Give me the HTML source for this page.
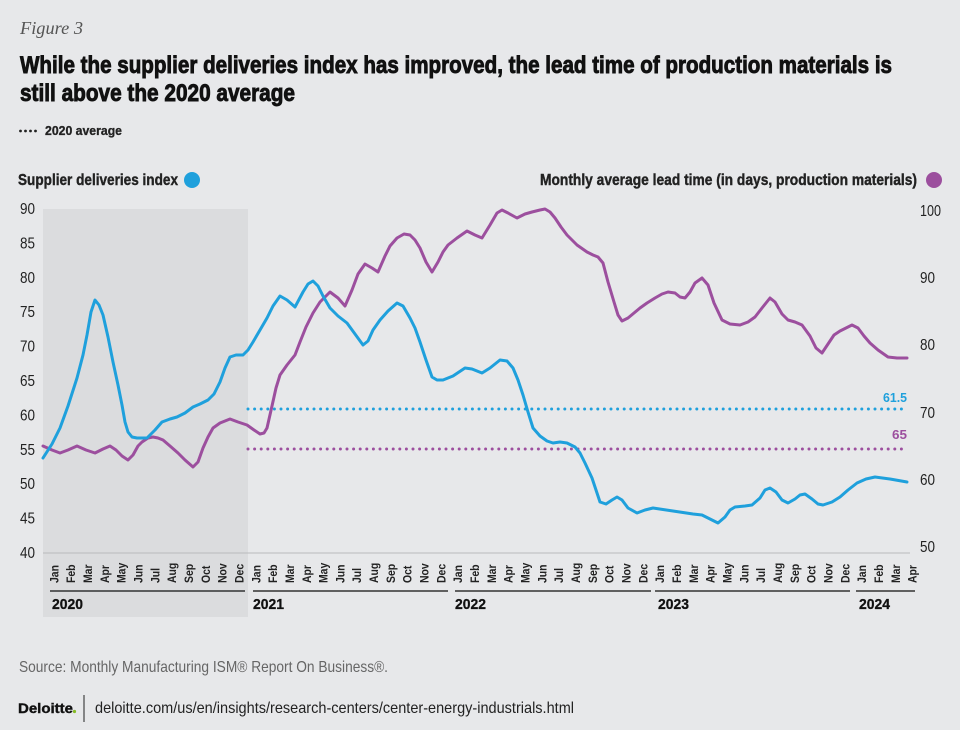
<!DOCTYPE html>
<html><head><meta charset="utf-8"><style>
html,body{margin:0;padding:0;background:#e7e8ea;}
svg{display:block;}
text{font-family:"Liberation Sans",Arial,sans-serif;}
.m{font-size:12px;font-weight:bold;fill:#222;}
.ax{font-size:16px;fill:#222;}
</style></head><body>
<svg width="960" height="730" viewBox="0 0 960 730" xmlns="http://www.w3.org/2000/svg">
<rect x="0" y="0" width="960" height="730" fill="#e7e8ea"/>
<rect x="43" y="209" width="205" height="408" fill="#dbdcde"/>

<text x="20" y="34" style="font-family:'Liberation Serif',serif;font-style:italic;font-size:18px;fill:#555" textLength="63" lengthAdjust="spacingAndGlyphs">Figure 3</text>
<text x="20" y="73" style="font-size:24px;font-weight:bold;fill:#111;stroke:#111;stroke-width:0.9px" textLength="872" lengthAdjust="spacingAndGlyphs">While the supplier deliveries index has improved, the lead time of production materials is</text>
<text x="20" y="101" style="font-size:24px;font-weight:bold;fill:#111;stroke:#111;stroke-width:0.9px" textLength="275" lengthAdjust="spacingAndGlyphs">still above the 2020 average</text>

<g fill="#222"><circle cx="20.5" cy="131" r="1.4"/><circle cx="25.5" cy="131" r="1.4"/><circle cx="30.5" cy="131" r="1.4"/><circle cx="35.5" cy="131" r="1.4"/></g>
<text x="45" y="135" style="font-size:13px;font-weight:bold;fill:#222;stroke:#222;stroke-width:0.3px" textLength="77" lengthAdjust="spacingAndGlyphs">2020 average</text>

<text x="18" y="185" style="font-size:16px;font-weight:bold;fill:#222;stroke:#222;stroke-width:0.4px" textLength="160" lengthAdjust="spacingAndGlyphs">Supplier deliveries index</text>
<circle cx="192" cy="180" r="8" fill="#1fa0dc"/>
<text x="540" y="185" style="font-size:16px;font-weight:bold;fill:#222;stroke:#222;stroke-width:0.4px" textLength="377" lengthAdjust="spacingAndGlyphs">Monthly average lead time (in days, production materials)</text>
<circle cx="934" cy="180" r="8" fill="#9c4f9e"/>

<!-- left axis -->
<g class="ax">
<text x="20" y="214" textLength="15" lengthAdjust="spacingAndGlyphs">90</text>
<text x="20" y="248.4" textLength="15" lengthAdjust="spacingAndGlyphs">85</text>
<text x="20" y="282.8" textLength="15" lengthAdjust="spacingAndGlyphs">80</text>
<text x="20" y="317.2" textLength="15" lengthAdjust="spacingAndGlyphs">75</text>
<text x="20" y="351.6" textLength="15" lengthAdjust="spacingAndGlyphs">70</text>
<text x="20" y="386" textLength="15" lengthAdjust="spacingAndGlyphs">65</text>
<text x="20" y="420.4" textLength="15" lengthAdjust="spacingAndGlyphs">60</text>
<text x="20" y="454.8" textLength="15" lengthAdjust="spacingAndGlyphs">55</text>
<text x="20" y="489.2" textLength="15" lengthAdjust="spacingAndGlyphs">50</text>
<text x="20" y="523.6" textLength="15" lengthAdjust="spacingAndGlyphs">45</text>
<text x="20" y="558" textLength="15" lengthAdjust="spacingAndGlyphs">40</text>
</g>
<!-- right axis -->
<g class="ax">
<text x="920" y="216" textLength="21" lengthAdjust="spacingAndGlyphs">100</text>
<text x="920" y="283" textLength="15" lengthAdjust="spacingAndGlyphs">90</text>
<text x="920" y="350" textLength="15" lengthAdjust="spacingAndGlyphs">80</text>
<text x="920" y="418" textLength="15" lengthAdjust="spacingAndGlyphs">70</text>
<text x="920" y="485" textLength="15" lengthAdjust="spacingAndGlyphs">60</text>
<text x="920" y="552" textLength="15" lengthAdjust="spacingAndGlyphs">50</text>
</g>

<line x1="43" y1="553" x2="910" y2="553" stroke="#b9babc" stroke-width="1"/>

<!-- dotted averages -->
<line x1="248" y1="409" x2="907" y2="409" stroke="#1fa0dc" stroke-width="3" stroke-linecap="round" stroke-dasharray="0 6.6"/>
<line x1="248" y1="449" x2="907" y2="449" stroke="#9c4f9e" stroke-width="3" stroke-linecap="round" stroke-dasharray="0 6.6"/>
<text x="907" y="402" text-anchor="end" style="font-size:13px;font-weight:bold;fill:#1fa0dc" textLength="24" lengthAdjust="spacingAndGlyphs">61.5</text>
<text x="907" y="439" text-anchor="end" style="font-size:13px;font-weight:bold;fill:#9c4f9e" textLength="15" lengthAdjust="spacingAndGlyphs">65</text>

<!-- purple series -->
<polyline fill="none" stroke="#9c4f9e" stroke-width="3" stroke-linejoin="round" stroke-linecap="round" points="43,446 52,450 60,453 68,450 77,446 86,450 95,453 103,449 110,446 116,450 122,456 128,460 133,455 138,446 142,442 148,438 153,437 158,438 163,440 170,446 178,453 185,460 193,467 198,462 203,448 208,437 213,428 220,423 230,419 238,422 247,425 254,430 260,434 264,433 267,428 272,406 276,388 280,375 287,365 295,355 300,342 306,327 313,313 320,302 330,292 338,298 345,306 352,290 358,274 365,264 372,268 378,272 385,256 390,246 397,238 404,234 410,235 415,240 420,248 426,262 432,272 438,262 443,252 448,245 457,238 467,231 475,235 482,238 490,225 497,213 502,210 508,213 517,218 525,214 532,212 540,210 545,209 550,212 555,218 561,227 567,235 577,245 587,252 593,255 598,257 603,263 608,282 614,302 618,315 622,321 628,318 634,313 640,308 647,303 655,298 662,294 668,292 675,293 680,297 685,298 690,292 695,283 702,278 708,285 714,303 722,320 730,324 740,325 748,322 755,317 762,308 770,298 775,302 782,314 788,320 795,322 802,325 810,336 816,348 822,353 828,344 834,335 840,331 846,328 852,325 858,328 864,336 870,343 878,350 888,357 897,358 907,358"/>

<!-- blue series -->
<polyline fill="none" stroke="#1fa0dc" stroke-width="3" stroke-linejoin="round" stroke-linecap="round" points="43,458 52,444 60,428 68,406 77,378 83,355 87,335 91,312 95,300 99,305 103,315 108,337 113,362 118,385 122,405 125,422 128,432 132,437 137,438 147,438 155,430 162,422 170,419 177,417 185,413 193,407 200,404 208,400 214,394 220,382 225,368 230,357 236,355 243,355 248,350 253,342 260,330 267,318 273,306 280,296 287,300 295,307 303,292 308,284 313,281 318,286 323,296 330,308 338,316 347,323 355,334 363,345 368,341 373,330 380,320 388,311 397,303 403,306 410,318 415,328 420,342 426,360 432,377 437,380 443,380 453,376 465,368 472,369 482,373 490,368 500,360 507,361 513,368 518,380 523,395 528,412 533,428 540,436 547,441 553,443 560,442 567,443 575,447 580,453 585,463 592,478 600,502 606,504 612,500 617,497 622,500 628,508 637,513 645,510 653,508 673,511 693,514 702,515 710,519 718,523 725,517 730,510 735,507 745,506 752,505 760,498 765,490 770,488 776,492 782,500 788,503 795,499 800,495 805,494 812,499 818,504 823,505 832,502 840,497 848,490 857,483 866,479 875,477 890,479 907,482"/>

<!-- month labels -->
<g class="m">
<text transform="translate(58.3,583) rotate(-90) scale(0.87,1)">Jan</text>
<text transform="translate(75.1,583) rotate(-90) scale(0.87,1)">Feb</text>
<text transform="translate(92.0,583) rotate(-90) scale(0.87,1)">Mar</text>
<text transform="translate(108.8,583) rotate(-90) scale(0.87,1)">Apr</text>
<text transform="translate(125.6,583) rotate(-90) scale(0.87,1)">May</text>
<text transform="translate(142.5,583) rotate(-90) scale(0.87,1)">Jun</text>
<text transform="translate(159.3,583) rotate(-90) scale(0.87,1)">Jul</text>
<text transform="translate(176.1,583) rotate(-90) scale(0.87,1)">Aug</text>
<text transform="translate(192.9,583) rotate(-90) scale(0.87,1)">Sep</text>
<text transform="translate(209.8,583) rotate(-90) scale(0.87,1)">Oct</text>
<text transform="translate(226.6,583) rotate(-90) scale(0.87,1)">Nov</text>
<text transform="translate(243.4,583) rotate(-90) scale(0.87,1)">Dec</text>
<text transform="translate(260.3,583) rotate(-90) scale(0.87,1)">Jan</text>
<text transform="translate(277.1,583) rotate(-90) scale(0.87,1)">Feb</text>
<text transform="translate(293.9,583) rotate(-90) scale(0.87,1)">Mar</text>
<text transform="translate(310.8,583) rotate(-90) scale(0.87,1)">Apr</text>
<text transform="translate(327.6,583) rotate(-90) scale(0.87,1)">May</text>
<text transform="translate(344.4,583) rotate(-90) scale(0.87,1)">Jun</text>
<text transform="translate(361.2,583) rotate(-90) scale(0.87,1)">Jul</text>
<text transform="translate(378.1,583) rotate(-90) scale(0.87,1)">Aug</text>
<text transform="translate(394.9,583) rotate(-90) scale(0.87,1)">Sep</text>
<text transform="translate(411.7,583) rotate(-90) scale(0.87,1)">Oct</text>
<text transform="translate(428.6,583) rotate(-90) scale(0.87,1)">Nov</text>
<text transform="translate(445.4,583) rotate(-90) scale(0.87,1)">Dec</text>
<text transform="translate(462.2,583) rotate(-90) scale(0.87,1)">Jan</text>
<text transform="translate(479.1,583) rotate(-90) scale(0.87,1)">Feb</text>
<text transform="translate(495.9,583) rotate(-90) scale(0.87,1)">Mar</text>
<text transform="translate(512.7,583) rotate(-90) scale(0.87,1)">Apr</text>
<text transform="translate(529.5,583) rotate(-90) scale(0.87,1)">May</text>
<text transform="translate(546.4,583) rotate(-90) scale(0.87,1)">Jun</text>
<text transform="translate(563.2,583) rotate(-90) scale(0.87,1)">Jul</text>
<text transform="translate(580.0,583) rotate(-90) scale(0.87,1)">Aug</text>
<text transform="translate(596.9,583) rotate(-90) scale(0.87,1)">Sep</text>
<text transform="translate(613.7,583) rotate(-90) scale(0.87,1)">Oct</text>
<text transform="translate(630.5,583) rotate(-90) scale(0.87,1)">Nov</text>
<text transform="translate(647.4,583) rotate(-90) scale(0.87,1)">Dec</text>
<text transform="translate(664.2,583) rotate(-90) scale(0.87,1)">Jan</text>
<text transform="translate(681.0,583) rotate(-90) scale(0.87,1)">Feb</text>
<text transform="translate(697.8,583) rotate(-90) scale(0.87,1)">Mar</text>
<text transform="translate(714.7,583) rotate(-90) scale(0.87,1)">Apr</text>
<text transform="translate(731.5,583) rotate(-90) scale(0.87,1)">May</text>
<text transform="translate(748.3,583) rotate(-90) scale(0.87,1)">Jun</text>
<text transform="translate(765.2,583) rotate(-90) scale(0.87,1)">Jul</text>
<text transform="translate(782.0,583) rotate(-90) scale(0.87,1)">Aug</text>
<text transform="translate(798.8,583) rotate(-90) scale(0.87,1)">Sep</text>
<text transform="translate(815.7,583) rotate(-90) scale(0.87,1)">Oct</text>
<text transform="translate(832.5,583) rotate(-90) scale(0.87,1)">Nov</text>
<text transform="translate(849.3,583) rotate(-90) scale(0.87,1)">Dec</text>
<text transform="translate(866.1,583) rotate(-90) scale(0.87,1)">Jan</text>
<text transform="translate(883.0,583) rotate(-90) scale(0.87,1)">Feb</text>
<text transform="translate(899.8,583) rotate(-90) scale(0.87,1)">Mar</text>
<text transform="translate(916.6,583) rotate(-90) scale(0.87,1)">Apr</text>
</g>

<!-- year rules -->
<g stroke="#333" stroke-width="1.5">
<line x1="50" y1="591" x2="245" y2="591"/>
<line x1="253" y1="591" x2="448" y2="591"/>
<line x1="455" y1="591" x2="651" y2="591"/>
<line x1="655" y1="591" x2="850" y2="591"/>
<line x1="856" y1="591" x2="915" y2="591"/>
</g>
<g style="font-size:15px;font-weight:bold;fill:#111;stroke:#111;stroke-width:0.3px">
<text x="52" y="609" textLength="31" lengthAdjust="spacingAndGlyphs">2020</text>
<text x="253" y="609" textLength="31" lengthAdjust="spacingAndGlyphs">2021</text>
<text x="455" y="609" textLength="31" lengthAdjust="spacingAndGlyphs">2022</text>
<text x="658" y="609" textLength="31" lengthAdjust="spacingAndGlyphs">2023</text>
<text x="859" y="609" textLength="31" lengthAdjust="spacingAndGlyphs">2024</text>
</g>

<text x="19" y="672" style="font-size:16px;fill:#666" textLength="369" lengthAdjust="spacingAndGlyphs">Source: Monthly Manufacturing ISM® Report On Business®.</text>

<text x="18" y="713" style="font-size:14px;font-weight:bold;fill:#111;stroke:#111;stroke-width:0.4px" textLength="55" lengthAdjust="spacingAndGlyphs">Deloitte</text>
<circle cx="74.5" cy="711.5" r="1.6" fill="#86bc25"/>
<line x1="84" y1="695" x2="84" y2="722" stroke="#222" stroke-width="1"/>
<text x="95" y="713" style="font-size:16px;fill:#222" textLength="479" lengthAdjust="spacingAndGlyphs">deloitte.com/us/en/insights/research-centers/center-energy-industrials.html</text>
</svg>
</body></html>
